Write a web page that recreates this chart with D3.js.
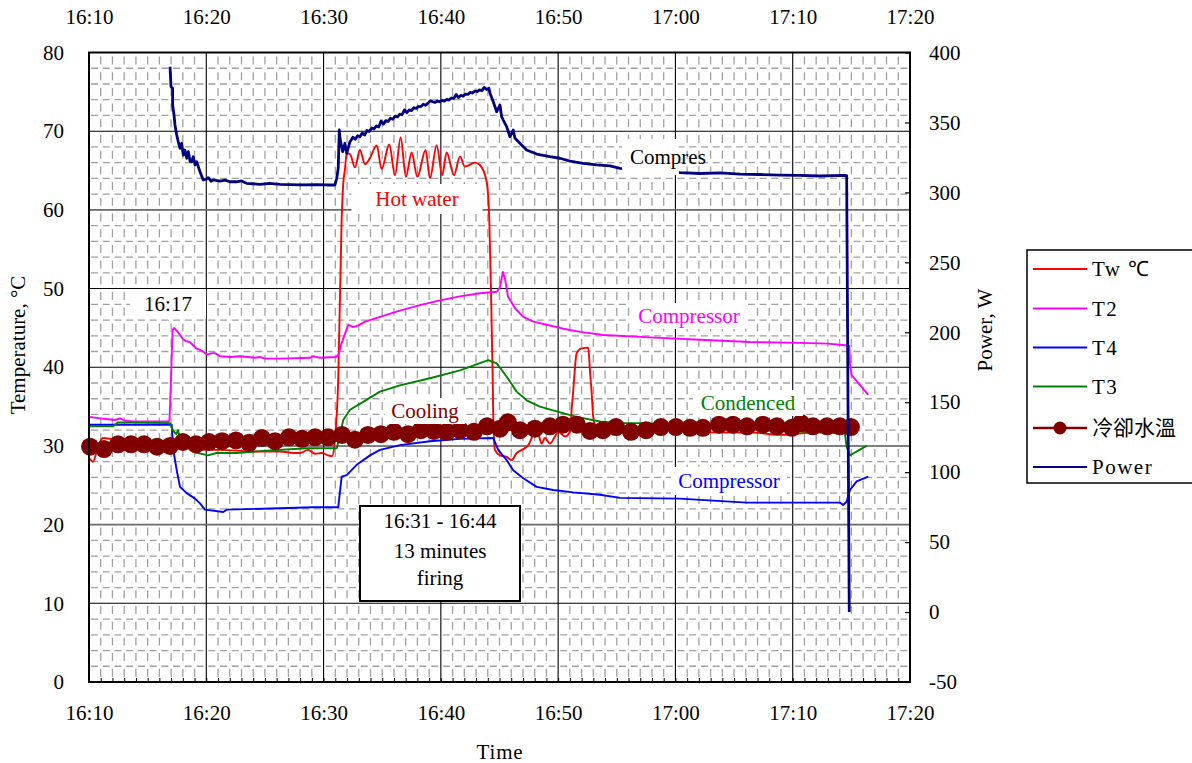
<!DOCTYPE html>
<html>
<head>
<meta charset="utf-8">
<script src="https://cdn.jsdelivr.net/npm/d3@7"></script>
<style>
  html, body { margin: 0; padding: 0; background: #fff; }
  svg { display: block; font-family: "Liberation Serif", "Times New Roman", serif; }
</style>
</head>
<body>
<svg id="chart" width="1192" height="763"></svg>
<script>
// ---- data: [minutes after 16:10, value] ----
const timeTicks = ["16:10", "16:20", "16:30", "16:40", "16:50", "17:00", "17:10", "17:20"];
const tempTicks = [0, 10, 20, 30, 40, 50, 60, 70, 80];
const powerTicks = [-50, 0, 50, 100, 150, 200, 250, 300, 350, 400];
const seriesNames = ["Tw \u2103", "T2", "T4", "T3", "冷卻水溫", "Power"];

// hot water temperature, °C
const tw = [[0,28.5],[0.34,28.0],[0.77,29.9],[1.19,31.0],[1.79,30.9],[3.07,30.4],[4.77,29.9],[6.48,30.2],
  [7.76,29.9],[9.46,29.5],[11.17,29.5],[13.73,29.3],[16.28,29.3],[17.48,29.1],[17.99,29.1],[18.67,29.5],
  [19.27,29.0],[19.86,29.1],[20.38,28.8],[20.72,28.7],[20.97,30.8],[21.25,38.4],[21.54,58.7],[21.68,63.4],
  [21.82,65.1],[21.97,67.2],[22.25,67.1],[22.68,65.4],[23.10,67.6],[23.53,65.8],[23.96,66.6],[24.53,68.2],
  [24.95,65.2],[25.60,68.3],[26.09,64.4],[26.57,69.2],[27.02,64.2],[27.51,67.3],[27.99,64.2],[28.70,67.6],
  [29.07,64.0],[29.64,68.2],[30.12,64.4],[30.49,67.3],[31.12,64.4],[31.63,66.8],[32.05,65.5],[32.91,66.0],
  [33.33,65.7],[33.90,63.6],[34.13,58.7],[34.27,50.2],[34.42,38.4],[34.47,33.7],[34.61,29.5],[35.04,28.8],
  [35.61,28.6],[36.04,28.2],[36.46,29.1],[36.89,29.5],[37.45,30.1],[37.74,31.0],[38.02,32.0],[38.30,31.6],
  [38.59,30.3],[38.87,31.0],[39.30,30.3],[39.73,31.2],[40.01,31.8],[40.58,31.2],[41.01,31.8],[41.15,34.6],
  [41.29,37.1],[41.58,41.8],[42.00,42.4],[42.57,42.5],[42.71,39.6],[42.86,36.7],[42.99,33.7],[43.28,32.4],
  [44.42,32.0],[46.12,31.8],[47.54,31.8],[49.10,32.0],[50.38,32.2],[53.20,31.7],[56.61,31.7],[58.91,31.4],
  [61.72,31.7],[64.45,31.7]];

// compressor discharge T2, °C
const t2 = [[0,33.7],[0.94,33.5],[1.62,33.4],[2.22,33.3],[2.64,33.5],[3.07,33.2],[3.75,33.1],[6.73,33.1],
  [6.86,33.2],[6.99,38.4],[7.12,44.7],[7.25,45.0],[7.50,44.6],[7.76,44.1],[8.01,43.6],[8.27,43.3],[8.61,43.2],
  [8.87,42.8],[9.12,42.4],[9.46,42.2],[9.72,42.0],[10.06,41.6],[10.49,41.8],[10.74,41.8],[11.17,41.4],
  [12.02,41.3],[12.87,41.4],[14.15,41.2],[14.58,41.3],[15.0,41.1],[16.28,41.1],[18.84,41.2],[19.10,41.4],
  [19.69,41.2],[21.06,41.3],[21.27,41.6],[21.48,42.8],[21.74,43.9],[22.11,45.4],[22.51,45.1],[22.93,45.3],
  [23.53,45.8],[24.81,46.4],[26.51,47.2],[28.22,47.9],[29.92,48.5],[31.63,49.0],[33.33,49.4],[34.78,49.6],
  [35.04,50.2],[35.29,52.1],[35.46,51.3],[35.72,49.0],[36.32,47.5],[37.03,46.4],[37.88,45.8],[39.02,45.4],
  [40.43,44.9],[41.86,44.5],[43.85,44.1],[47.83,43.8],[52.09,43.5],[56.35,43.2],[60.61,43.1],[63.0,43.0],
  [64.45,42.8],[64.83,42.7],[64.88,40.5],[65.02,39.0],[66.44,36.5]];

// compressor suction T4, °C
const t4 = [[0,32.7],[7.05,32.7],[7.19,29.5],[7.48,26.9],[7.76,24.8],[8.33,24.0],[9.04,23.3],[9.46,22.7],
  [9.89,21.9],[11.45,21.6],[11.74,21.9],[19.12,22.2],[21.25,22.2],[21.54,26.1],[21.97,26.3],[22.82,27.6],
  [23.96,28.8],[24.81,29.5],[26.51,30.1],[29.07,30.6],[31.63,30.9],[34.47,31.0],[34.89,29.5],[35.61,28.2],
  [36.17,26.9],[37.03,25.9],[38.17,24.8],[39.58,24.4],[41.29,24.1],[43.56,23.8],[45.27,23.4],[50.38,23.3],
  [56.07,22.8],[64.02,22.8],[64.30,22.5],[64.59,22.9],[64.88,24.4],[65.45,25.5],[66.44,26.1]];

// condenser outlet T3, °C
const t3 = [[0,32.5],[2.05,32.5],[2.47,33.0],[6.91,32.9],[7.08,32.2],[7.25,31.8],[7.44,31.5],[7.59,32.0],
  [7.76,31.0],[8.18,30.1],[9.04,29.2],[10.14,28.8],[10.89,29.1],[12.59,29.1],[15.15,29.4],[18.56,29.7],
  [21.12,29.7],[21.40,31.4],[21.68,33.3],[22.25,34.6],[23.38,35.6],[24.81,36.9],[26.51,37.7],[29.07,38.6],
  [31.63,39.6],[34.04,40.9],[34.76,40.5],[35.32,39.4],[35.89,38.2],[36.46,36.9],[37.31,35.8],[38.45,35.0],
  [39.87,34.4],[41.58,33.7],[43.56,33.1],[45.27,32.9],[47.54,32.9],[52.09,32.5],[57.46,32.0],[61.72,31.8],
  [64.45,31.6],[64.59,29.9],[64.88,28.8],[65.45,29.3],[66.30,30.0]];

// cooling water temperature, °C
const coolingWater = [[0.09,29.9],[1.28,29.6],[2.47,30.2],[3.58,30.2],[4.69,30.2],[5.80,29.9],[6.91,30.0],
  [8.01,30.5],[9.12,30.2],[10.23,30.5],[11.34,30.6],[12.53,30.7],[13.64,30.4],[14.75,31.0],[15.86,30.6],
  [17.05,31.1],[18.16,30.9],[19.27,31.1],[20.38,31.1],[21.57,31.4],[22.68,30.8],[23.79,31.4],[24.89,31.5],
  [26.00,31.8],[27.20,31.5],[28.30,32.0],[29.41,31.9],[30.52,31.8],[31.63,32.0],[32.82,31.8],[33.93,32.5],
  [35.04,32.2],[35.72,33.0],[36.74,32.0],[38.02,32.2],[39.30,32.5],[40.41,32.7],[41.60,32.7],[42.71,31.9],
  [43.82,32.0],[44.93,32.4],[46.21,31.8],[47.49,32.0],[48.76,32.4],[50.04,32.4],[51.24,32.3],[52.34,32.3],
  [53.71,32.7],[54.90,32.7],[56.10,32.5],[57.46,32.7],[58.65,32.5],[59.93,32.3],[60.70,32.9],[61.72,32.5],
  [62.92,32.5],[64.02,32.5],[64.96,32.4]];

// compressor power, W
const power = [[6.91,389.8],[6.99,375.6],[7.13,374.4],[7.13,362.5],[7.25,355.3],[7.33,348.2],[7.48,341.0],
  [7.61,336.2],[7.76,331.5],[7.90,335.1],[8.04,326.7],[8.18,330.3],[8.33,324.4],[8.47,329.1],[8.62,322.0],
  [8.76,321.9],[8.89,325.5],[9.04,319.6],[9.18,321.9],[9.46,314.8],[9.74,308.9],[10.0,309.5],[10.17,310.5],
  [10.4,308.0],[10.60,308.9],[11.17,308.1],[11.6,308.8],[12.0,307.6],[12.59,307.6],[13.0,308.2],[13.44,306.5],
  [14.58,305.8],[15.4,306.4],[16.28,305.8],[17.99,305.3],[19.5,305.6],[20.26,305.3],[20.97,305.3],
  [21.12,310.1],[21.25,317.2],[21.34,344.6],[21.40,338.7],[21.63,329.1],[21.82,335.1],[21.97,327.9],
  [22.25,336.2],[22.5,339.5],[22.7,338.0],[22.9,340.5],[23.1,339.8],[23.3,342.5],[23.5,341.0],[23.7,344.3],
  [23.9,343.5],[24.1,346.0],[24.3,345.3],[24.5,347.5],[24.7,346.8],[24.9,351.0],[25.1,348.8],[25.3,351.3],
  [25.5,350.8],[25.7,353.0],[25.9,352.3],[26.1,354.5],[26.3,354.0],[26.5,356.0],[26.7,355.5],[26.9,359.0],
  [27.1,357.0],[27.3,359.0],[27.5,358.5],[27.7,360.5],[27.9,360.0],[28.1,361.5],[28.3,361.3],[28.5,363.0],
  [28.7,362.3],[28.9,363.8],[29.1,365.5],[29.3,364.8],[29.5,364.3],[29.7,365.3],[29.9,364.8],[30.1,365.8],
  [30.3,365.3],[30.5,366.5],[30.7,366.0],[30.9,367.5],[31.1,367.0],[31.3,370.0],[31.5,367.8],[31.7,369.3],
  [31.9,368.8],[32.1,370.3],[32.3,370.0],[32.5,371.5],[32.7,371.0],[32.9,372.5],[33.1,372.0],[33.3,373.3],
  [33.5,372.8],[33.7,375.0],[33.9,373.5],[34.1,374.5],[34.19,370.8],[34.47,364.8],[34.76,357.7],[35.04,362.5],
  [35.18,354.1],[35.32,351.7],[35.61,347.0],[35.89,339.8],[36.17,344.6],[36.32,338.7],[36.74,335.1],
  [37.31,330.3],[38.17,327.4],[39.30,325.5],[40.15,324.4],[41.01,322.4],[42.14,320.8],[43.28,319.6],
  [44.42,318.9],[45.27,317.2],[46.97,316.0],[48.68,315.3],[50.38,314.2],[52.09,313.5],[53.79,313.9],
  [55.50,313.1],[57.20,312.8],[58.91,312.4],[60.61,312.1],[62.32,311.7],[64.45,312.1],[64.60,312.0],
  [64.82,0.0]];

// ---- styling ----
const colors = {tw: "#ff0000", t2: "#ff00ff", t4: "#0000ff", t3: "#008000", cool: "#800000", power: "#000080"};
const font = 21;

const svg = d3.select("#chart");
const W = 1192, H = 763;
const P = {left: 89, right: 910, top: 52.5, bottom: 682};

svg.append("rect").attr("width", W).attr("height", H).attr("fill", "#fff");

const base = new Date(2000, 0, 1, 16, 10);
const at = m => new Date(base.getTime() + m * 60000);
const hm = s => { const [h, m] = s.split(":").map(Number); return new Date(2000, 0, 1, h, m); };

const x = d3.scaleTime().domain([hm(timeTicks[0]), hm(timeTicks[timeTicks.length - 1])]).range([P.left, P.right]);
const yT = d3.scaleLinear().domain([0, 80]).range([P.bottom, P.top]);
const yP = d3.scaleLinear().domain([-50, 400]).range([P.bottom, P.top]);

// ---- grid ----
const grid = svg.append("g");
const minorX = x.ticks(d3.timeMinute.every(1)).filter(d => d.getMinutes() % 10 !== 0);
const minorY = d3.range(2, 80, 2).filter(v => v % 10 !== 0);
grid.selectAll(".mx").data(minorX).join("line")
  .attr("x1", d => x(d)).attr("x2", d => x(d)).attr("y1", P.top).attr("y2", P.bottom)
  .attr("stroke", "#a0a0a0").attr("stroke-width", 1.3).attr("stroke-dasharray", "8,7.7")
  .attr("stroke-dashoffset", -4);
grid.selectAll(".my").data(minorY).join("line")
  .attr("x1", P.left).attr("x2", P.right).attr("y1", d => yT(d)).attr("y2", d => yT(d))
  .attr("stroke", "#a0a0a0").attr("stroke-width", 1.3).attr("stroke-dasharray", "7,4.73")
  .attr("stroke-dashoffset", -2);
grid.selectAll(".Mx").data(timeTicks.map(hm)).join("line")
  .attr("x1", d => x(d)).attr("x2", d => x(d)).attr("y1", P.top).attr("y2", P.bottom)
  .attr("stroke", "#000").attr("stroke-width", 1.1);
grid.selectAll(".My").data(tempTicks).join("line")
  .attr("x1", P.left).attr("x2", P.right).attr("y1", d => yT(d)).attr("y2", d => yT(d))
  .attr("stroke", d => (d === 20 || d === 60) ? "#6a6a6a" : "#000")
  .attr("stroke-width", d => (d === 20 || d === 60) ? 1.8 : 1.1);

// ---- series ----
const lineT = d3.line().x(d => x(at(d[0]))).y(d => yT(d[1]));
const smoothT = d3.line().x(d => x(at(d[0]))).y(d => yT(d[1])).curve(d3.curveMonotoneX);
const lineP = d3.line().x(d => x(at(d[0]))).y(d => yP(d[1]));
const plot = svg.append("g");
[[tw, colors.tw, smoothT], [t2, colors.t2, lineT], [t4, colors.t4, lineT], [t3, colors.t3, lineT]]
  .forEach(([data, c, gen]) => {
    plot.append("path").datum(data).attr("d", gen)
      .attr("fill", "none").attr("stroke", c).attr("stroke-width", 1.9).attr("stroke-linejoin", "round");
  });
plot.append("path").datum(coolingWater).attr("d", lineT)
  .attr("fill", "none").attr("stroke", colors.cool).attr("stroke-width", 3);
plot.selectAll(".cw").data(coolingWater).join("circle")
  .attr("cx", d => x(at(d[0]))).attr("cy", d => yT(d[1])).attr("r", 9)
  .attr("fill", colors.cool);
plot.append("path").datum(power).attr("d", lineP)
  .attr("fill", "none").attr("stroke", colors.power).attr("stroke-width", 2.8).attr("stroke-linejoin", "round");

// ---- frame ----
svg.append("rect").attr("x", P.left).attr("y", P.top)
  .attr("width", P.right - P.left).attr("height", P.bottom - P.top)
  .attr("fill", "none").attr("stroke", "#000").attr("stroke-width", 2);

// ---- axes ----
const styleAxis = g => {
  g.select(".domain").remove();
  g.selectAll("text").attr("font-size", font).attr("font-family", "Liberation Serif").attr("fill", "#000");
};
const fmt = d3.timeFormat("%H:%M");
svg.append("g").attr("transform", `translate(0,30)`)
  .call(d3.axisTop(x).tickValues(timeTicks.map(hm)).tickFormat(fmt).tickSize(0).tickPadding(6))
  .call(styleAxis);
svg.append("g").attr("transform", `translate(0,${P.bottom})`)
  .call(d3.axisBottom(x).tickValues(timeTicks.map(hm)).tickFormat(fmt).tickSize(0).tickPadding(23))
  .call(styleAxis);
svg.append("g").attr("transform", `translate(0,${P.bottom})`)
  .call(d3.axisBottom(x).ticks(d3.timeMinute.every(1)).tickFormat("").tickSize(-4))
  .call(g => { g.select(".domain").remove(); g.selectAll("line").attr("stroke", "#000"); });
svg.append("g").attr("transform", `translate(${P.left},0)`)
  .call(d3.axisLeft(yT).tickValues(tempTicks).tickFormat(d => String(d)).tickSize(0).tickPadding(25))
  .call(styleAxis);
svg.append("g").attr("transform", `translate(${P.right},0)`)
  .call(d3.axisRight(yP).tickValues(powerTicks).tickFormat(d => String(d)).tickSize(-5).tickPadding(19))
  .call(styleAxis)
  .call(g => g.selectAll("line").attr("stroke", "#000").attr("stroke-width", 1.2));

// axis titles
svg.append("text").attr("x", 500).attr("y", 752).attr("dy", "0.35em").attr("text-anchor", "middle")
  .attr("font-size", font).attr("letter-spacing", 0.8).text("Time");
svg.append("text").attr("transform", "translate(18,345) rotate(-90)").attr("dy", "0.35em")
  .attr("text-anchor", "middle").attr("font-size", font).text("Temperature, \u00B0C");
svg.append("text").attr("transform", "translate(985,330) rotate(-90)").attr("dy", "0.35em")
  .attr("text-anchor", "middle").attr("font-size", font).text("Power, W");

// ---- annotations ----
function note(text, cx, cy, color, w, h, anchor = "middle", bx = null) {
  const g = svg.append("g");
  const left = bx !== null ? bx : cx - w / 2;
  g.append("rect").attr("x", left).attr("y", cy - h / 2).attr("width", w).attr("height", h).attr("fill", "#fff");
  g.append("text").attr("x", cx).attr("y", cy).attr("dy", "0.35em").attr("text-anchor", anchor)
    .attr("fill", color).attr("font-size", font).text(text);
}
note("16:17", 168, 304, "#000", 76, 30);
note("Hot water", 417, 199, colors.tw, 131, 30);
note("Compres", 630, 157, "#000", 57, 36, "start", 622);
note("Compressor", 689, 316, colors.t2, 118, 26);
note("Condenced", 748, 403, colors.t3, 110, 26);
note("Cooling", 425, 411, colors.cool, 80, 26);
note("Compressor", 729, 481, colors.t4, 116, 28);

const box = svg.append("g");
box.append("rect").attr("x", 360).attr("y", 506).attr("width", 160).attr("height", 95)
  .attr("fill", "#fff").attr("stroke", "#000").attr("stroke-width", 2);
["16:31 - 16:44", "13 minutes", "firing"].forEach((s, i) => {
  box.append("text").attr("x", 440).attr("y", [521, 551, 578][i]).attr("dy", "0.35em")
    .attr("text-anchor", "middle").attr("font-size", font).text(s);
});

// ---- legend ----
const leg = svg.append("g");
leg.append("rect").attr("x", 1027).attr("y", 250).attr("width", 175).attr("height", 233)
  .attr("fill", "#fff").attr("stroke", "#000").attr("stroke-width", 1.5);
const legColors = [colors.tw, colors.t2, colors.t4, colors.t3, colors.cool, colors.power];
const legY = [269, 308.5, 347.5, 386.5, 428, 467];
seriesNames.forEach((name, i) => {
  const y = legY[i];
  leg.append("line").attr("x1", 1033).attr("x2", 1087).attr("y1", y).attr("y2", y)
    .attr("stroke", legColors[i]).attr("stroke-width", i === 4 ? 2.5 : 2);
  if (i === 4) leg.append("circle").attr("cx", 1060).attr("cy", y).attr("r", 6.5).attr("fill", colors.cool);
  leg.append("text").attr("x", 1092).attr("y", y).attr("dy", "0.35em").attr("font-size", font)
    .attr("font-family", i === 4 ? "Noto Sans CJK TC" : "Liberation Serif")
    .attr("letter-spacing", i === 4 ? 0 : 1.5)
    .text(name);
});
</script>
</body>
</html>
